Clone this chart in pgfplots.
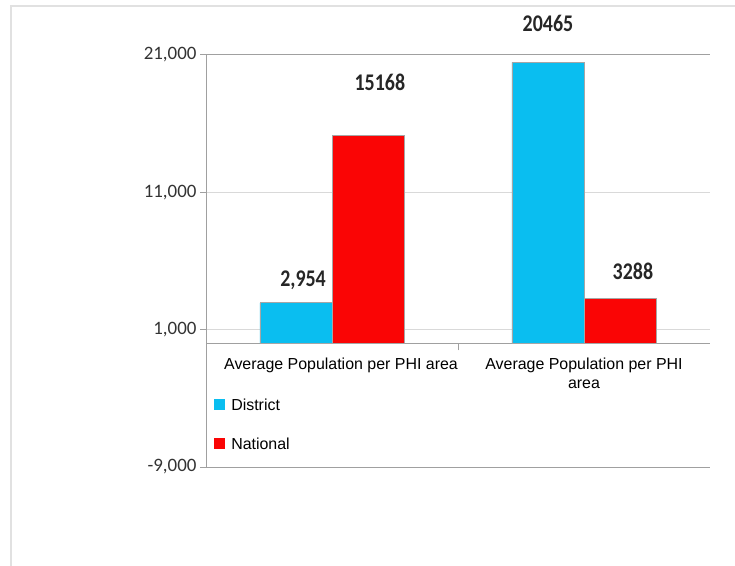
\documentclass[border=0pt]{standalone}
\usepackage{pgfplots}
\pgfplotsset{compat=1.18}
\usepackage{fontspec}
\setmainfont{Liberation Sans}
\newfontfamily\carlito{Carlito}
\usepackage{graphicx}

\definecolor{district}{RGB}{10,190,240}
\definecolor{national}{RGB}{250,5,5}
\definecolor{gridc}{RGB}{217,217,217}
\definecolor{axisc}{RGB}{160,160,160}
\definecolor{framec}{RGB}{225,225,225}

\begin{document}
\begin{tikzpicture}[x=1bp,y=1bp]
\useasboundingbox (0,0) rectangle (735,-566);
\draw[framec, line width=1.5bp] (11,-566) -- (11,-6) -- (735,-6);
\begin{axis}[
  at={(206bp,-467bp)}, anchor=south west,
  scale only axis, width=504bp, height=412bp,
  xmin=-0.5, xmax=1.5, ymin=-9000, ymax=21000,
  axis x line=middle, axis y line=left,
  axis line style={-, axisc, line width=1bp},
  scaled y ticks=false,
  ytick={-9000,1000,11000,21000},
  yticklabels={{-9,000},{1,000},{11,000},{21,000}},
  yticklabel style={font=\carlito\fontsize{19}{19}\selectfont, text=black!80},
  y tick style={axisc, line width=1bp},
  ymajorgrids, grid style={gridc, line width=1bp},
  xtick={0,1},
  xticklabels={{\hspace*{18bp}Average Population per PHI area}, {Average Population per PHI\\area}},
  xticklabel style={font=\fontsize{16}{19}\selectfont, align=center, yshift=-5bp},
  x tick style={draw=none},
  extra x ticks={0.5}, extra x tick labels={},
  extra x tick style={x tick style={draw=axisc, line width=1bp}, major tick length=7bp, tick align=outside},
  tick align=outside, major tick length=6bp,
  ybar, bar width=0.286,
  clip=false,
  legend style={at={(axis description cs:0.016,0.17)}, anchor=north west, draw=none, fill=none,
    font=\fontsize{16}{19}\selectfont, row sep=22bp, inner sep=0pt, cells={anchor=west}},
  legend image code/.code={\draw[#1,draw=none] (0bp,-4bp) rectangle (11bp,7bp);},
]
\addplot[fill=district, draw=black!35, line width=0.8bp, bar shift=-0.143] coordinates {(0,2954) (1,20465)};
\addplot[fill=national, draw=black!35, line width=0.8bp, bar shift=0.143] coordinates {(0,15168) (1,3288)};
\legend{\hspace*{4bp}District, \hspace*{4bp}National}
\draw[axisc, line width=1bp] (axis cs:-0.5,21000) -- (axis cs:1.5,21000);
\draw[axisc, line width=1bp] (axis cs:-0.5,-9000) -- (axis cs:1.5,-9000);
\tikzset{dl/.style={font=\carlito\bfseries\fontsize{20}{20}\selectfont, text=black!85}}
\node[dl] at (axis cs:-0.115,4617) {\scalebox{1}[1.2]{2,954}};
\node[dl] at (axis cs:0.19,19038) {\scalebox{1}[1.2]{15168}};
\node[dl] at (axis cs:0.857,23335) {\scalebox{1}[1.2]{20465}};
\node[dl] at (axis cs:1.194,5273) {\scalebox{1}[1.2]{3288}};
\end{axis}
\end{tikzpicture}
\end{document}
